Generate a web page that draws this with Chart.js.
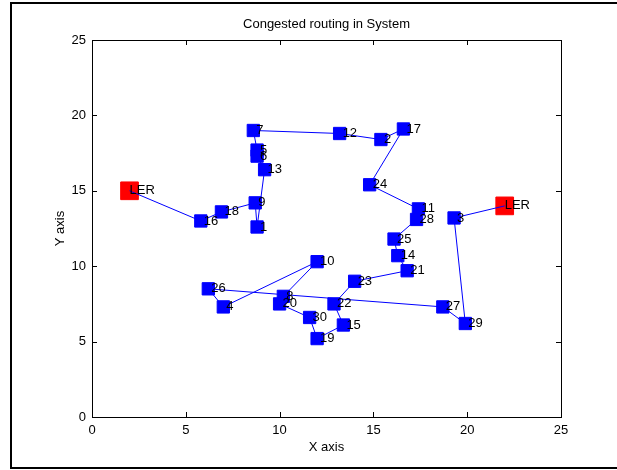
<!DOCTYPE html>
<html>
<head>
<meta charset="utf-8">
<script src="https://cdn.jsdelivr.net/npm/chart.js@4.4.1/dist/chart.umd.min.js"></script>
<style>
  html, body { margin: 0; padding: 0; background: #fff; }
  #wrap { width: 617px; height: 470px; }
</style>
</head>
<body>
<div id="wrap"><canvas id="routeChart" width="617" height="470"></canvas></div>
<script>
// route through the system, in visiting order
const nodeIds = ['LER', 16, 18, 9, 1, 13, 6, 5, 7, 12, 2, 17, 24, 11, 28, 25, 14, 21, 23, 22, 15, 19, 30, 20, 8, 10, 4, 26, 27, 29, 3, 'LER'];
const nodeX = [2, 5.8, 6.9, 8.7, 8.8, 9.2, 8.8, 8.8, 8.6, 13.2, 15.4, 16.6, 14.8, 17.4, 17.3, 16.1, 16.3, 16.8, 14.0, 12.9, 13.4, 12.0, 11.6, 10.0, 10.2, 12.0, 7.0, 6.2, 18.7, 19.9, 19.3, 22];
const nodeY = [15, 13.0, 13.6, 14.2, 12.6, 16.4, 17.3, 17.7, 19.0, 18.8, 18.4, 19.1, 15.4, 13.8, 13.1, 11.8, 10.7, 9.7, 9.0, 7.5, 6.1, 5.2, 6.6, 7.5, 8.0, 10.3, 7.3, 8.5, 7.3, 6.2, 13.2, 14];
const xTicks = [0, 5, 10, 15, 20, 25];
const yTicks = [0, 5, 10, 15, 20, 25];

const FONT = 'Arial, "Liberation Sans", sans-serif';

const routePts = nodeX.map((x, i) => ({ x: x, y: nodeY[i] }));
const lerPts = routePts.filter((p, i) => nodeIds[i] === 'LER');

// box, inward ticks, titles and node labels
const matlabLook = {
    id: 'matlabLook',
    beforeDraw(chart) {
        const c = chart.ctx;
        c.save();
        c.fillStyle = '#fff';
        c.fillRect(0, 0, chart.width, chart.height);
        c.strokeStyle = '#000';
        c.lineWidth = 2;
        c.strokeRect(11, 3, 640, 465);
        c.restore();
    },
    afterDatasetsDraw(chart) {
        const c = chart.ctx;
        const a = chart.chartArea;
        const xs = chart.scales.x, ys = chart.scales.y;
        c.save();
        // node labels
        c.fillStyle = '#000';
        c.font = '13px ' + FONT;
        c.textBaseline = 'middle';
        c.textAlign = 'left';
        routePts.forEach((p, i) => {
            const px = xs.getPixelForValue(p.x), py = ys.getPixelForValue(p.y);
            const off = nodeIds[i] === 'LER' ? 0 : 3;
            c.fillText(String(nodeIds[i]), px + off, py);
        });
        // axes box
        c.strokeStyle = '#000';
        c.lineWidth = 1;
        c.strokeRect(Math.round(a.left) + 0.5, Math.round(a.top) + 0.5, Math.round(a.right - a.left), Math.round(a.bottom - a.top));
        c.beginPath();
        xTicks.forEach(t => {
            const px = Math.round(xs.getPixelForValue(t)) + 0.5;
            c.moveTo(px, a.bottom); c.lineTo(px, a.bottom - 5);
            c.moveTo(px, a.top); c.lineTo(px, a.top + 5);
        });
        yTicks.forEach(t => {
            const py = Math.round(ys.getPixelForValue(t)) + 0.5;
            c.moveTo(a.left, py); c.lineTo(a.left + 5, py);
            c.moveTo(a.right, py); c.lineTo(a.right - 5, py);
        });
        c.stroke();
        // titles
        const cx = (a.left + a.right) / 2;
        c.textAlign = 'center';
        c.font = '13px ' + FONT;
        c.fillText('Congested routing in System', cx, 24);
        c.fillText('X axis', cx, 447);
        c.translate(60, (a.top + a.bottom) / 2);
        c.rotate(-Math.PI / 2);
        c.fillText('Y axis', 0, 0);
        c.restore();
    }
};

new Chart(document.getElementById('routeChart'), {
    type: 'scatter',
    data: {
        datasets: [{
            data: routePts,
            showLine: true,
            borderColor: '#0000ff',
            borderWidth: 1,
            pointStyle: 'rect',
            pointRadius: ctx => nodeIds[ctx.dataIndex] === 'LER' ? 0 : 8.7,
            pointBackgroundColor: '#0000ff',
            pointBorderColor: '#0000ff',
            pointBorderWidth: 1
        }, {
            data: lerPts,
            showLine: false,
            pointStyle: 'rect',
            pointRadius: 12.5,
            pointBackgroundColor: '#ff0000',
            pointBorderColor: '#ff0000',
            pointBorderWidth: 1
        }]
    },
    options: {
        responsive: false,
        animation: false,
        layout: { padding: { top: 40, right: 56, bottom: 0, left: 0 } },
        plugins: { legend: { display: false }, tooltip: { enabled: false } },
        scales: {
            x: {
                type: 'linear', min: 0, max: 25,
                afterBuildTicks: s => { s.ticks = xTicks.map(v => ({ value: v })); },
                afterFit: s => { s.height = 53; },
                grid: { display: false, drawTicks: false },
                border: { display: false },
                ticks: { color: '#000', padding: 6, font: { size: 13, family: FONT }, maxRotation: 0 }
            },
            y: {
                type: 'linear', min: 0, max: 25,
                afterBuildTicks: s => { s.ticks = yTicks.map(v => ({ value: v })); },
                afterFit: s => { s.width = 92; },
                grid: { display: false, drawTicks: false },
                border: { display: false },
                ticks: { color: '#000', padding: 6, font: { size: 13, family: FONT } }
            }
        }
    },
    plugins: [matlabLook]
});
</script>
</body>
</html>
